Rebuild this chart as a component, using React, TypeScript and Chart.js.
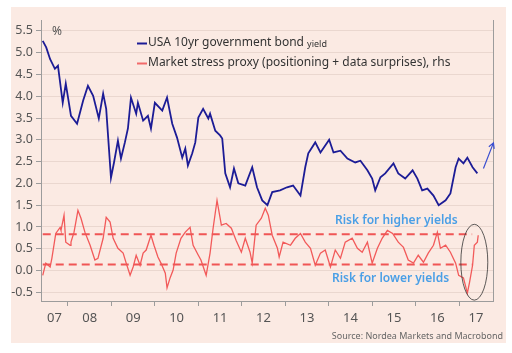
import React, { useEffect, useRef } from "react";
import { Chart, registerables } from "chart.js";

Chart.register(...registerables);

// ---- Data ----
const bondDates = [
  2007.42, 2007.5, 2007.59, 2007.7, 2007.77, 2007.88, 2007.95, 2008.07, 2008.21, 2008.35,
  2008.46, 2008.58, 2008.71, 2008.81, 2008.88, 2008.99, 2009.06, 2009.15, 2009.22, 2009.31,
  2009.38, 2009.45, 2009.57, 2009.61, 2009.73, 2009.84, 2009.91, 2010.0, 2010.17, 2010.28,
  2010.4, 2010.51, 2010.63, 2010.7, 2010.76, 2010.86, 2010.93, 2011.0, 2011.11, 2011.23,
  2011.27, 2011.39, 2011.5, 2011.55, 2011.62, 2011.73, 2011.82, 2011.92, 2012.08, 2012.24,
  2012.35, 2012.47, 2012.59, 2012.7, 2012.88, 2013.04, 2013.18, 2013.35, 2013.46, 2013.53,
  2013.69, 2013.81, 2013.92, 2014.01, 2014.11, 2014.27, 2014.43, 2014.61, 2014.73, 2014.89,
  2015.0, 2015.07, 2015.19, 2015.3, 2015.49, 2015.6, 2015.76, 2015.93, 2016.04, 2016.15,
  2016.27, 2016.41, 2016.53, 2016.69, 2016.8, 2016.92, 2016.99, 2017.1, 2017.19, 2017.31,
  2017.42,
];
const bondYield = [
  5.27, 5.12, 4.85, 4.63, 4.7, 3.85, 4.29, 3.55, 3.37, 3.9,
  4.24, 4.01, 3.49, 4.06, 3.71, 2.13, 2.48, 2.98, 2.57, 2.94,
  3.26, 3.97, 3.6, 3.85, 3.44, 3.55, 3.26, 3.85, 3.67, 3.97,
  3.37, 3.05, 2.59, 2.8, 2.41, 2.69, 2.94, 3.51, 3.71, 3.49,
  3.6, 3.21, 3.1, 3.03, 2.23, 1.91, 2.34, 2.0, 1.95, 2.37,
  1.91, 1.61, 1.5, 1.8, 1.84, 1.91, 1.95, 1.72, 2.37, 2.69,
  2.94, 2.71, 2.87, 3.0, 2.71, 2.75, 2.57, 2.48, 2.52, 2.3,
  2.11, 1.84, 2.14, 2.23, 2.46, 2.23, 2.11, 2.3, 2.11, 1.84,
  1.88, 1.72, 1.5, 1.61, 1.77, 2.37, 2.57, 2.46, 2.59, 2.37,
  2.23,
];

const stressDates = [
  2007.42, 2007.49, 2007.59, 2007.63, 2007.72, 2007.82, 2007.84, 2007.91, 2007.95, 2008.05,
  2008.07, 2008.14, 2008.23, 2008.3, 2008.39, 2008.51, 2008.62, 2008.69, 2008.81, 2008.88,
  2008.97, 2009.04, 2009.15, 2009.27, 2009.34, 2009.43, 2009.5, 2009.57, 2009.66, 2009.73,
  2009.8, 2009.91, 2009.98, 2010.07, 2010.14, 2010.24, 2010.28, 2010.35, 2010.42, 2010.49,
  2010.6, 2010.7, 2010.81, 2010.88, 2011.0, 2011.06, 2011.18, 2011.27, 2011.34, 2011.43,
  2011.53, 2011.64, 2011.76, 2011.87, 2011.99, 2012.08, 2012.19, 2012.24, 2012.33, 2012.45,
  2012.54, 2012.61, 2012.7, 2012.82, 2012.86, 2012.95, 2013.12, 2013.23, 2013.35, 2013.46,
  2013.58, 2013.69, 2013.81, 2013.92, 2014.04, 2014.15, 2014.27, 2014.38, 2014.54, 2014.66,
  2014.77, 2014.89, 2015.0, 2015.12, 2015.23, 2015.35, 2015.47, 2015.6, 2015.72, 2015.83,
  2015.95, 2016.06, 2016.18, 2016.29, 2016.41, 2016.5, 2016.57, 2016.69, 2016.8, 2016.92,
  2016.99, 2017.1, 2017.19, 2017.24, 2017.31, 2017.35, 2017.42, 2017.44,
];
const stressProxy = [
  -0.11, 0.17, 0.08, 0.28, 0.85, 0.99, 0.92, 1.27, 0.65, 0.58,
  0.65, 0.88, 1.38, 1.2, 0.88, 0.58, 0.24, 0.28, 0.74, 1.22,
  1.11, 0.74, 0.51, 0.4, 0.17, -0.11, 0.08, 0.35, 0.12, 0.4,
  0.47, 0.81, 0.58, 0.31, 0.17, -0.06, -0.4, -0.17, 0.01, 0.4,
  0.74, 0.88, 0.99, 0.58, 0.35, 0.24, -0.11, 0.4, 0.97, 1.61,
  1.04, 1.08, 0.97, 0.69, 0.42, 0.74, 0.42, 0.17, 1.04, 1.2,
  1.43, 1.27, 0.81, 0.51, 0.31, 0.65, 0.58, 0.74, 0.85, 0.65,
  0.51, 0.12, 0.4, 0.47, 0.08, 0.47, 0.28, 0.65, 0.74, 0.51,
  0.42, 0.65, 0.17, 0.51, 0.74, 0.92, 0.85, 0.65, 0.53, 0.24,
  0.17, 0.35, 0.19, 0.4, 0.58, 0.88, 0.51, 0.58, 0.42, 0.17,
  -0.11, -0.17, -0.52, -0.27, 0.12, 0.58, 0.65, 0.81,
];

const thresholdHigh = 0.83;
const thresholdLow = 0.14;
const thresholdSpan = [2007.42, 2017.3];

const yearTicks = [2008, 2009, 2010, 2011, 2012, 2013, 2014, 2015, 2016, 2017];
const yearLabels = ["07", "08", "09", "10", "11", "12", "13", "14", "15", "16", "17"];
const yearLabelPos = [2007.69, 2008.5, 2009.5, 2010.5, 2011.5, 2012.5, 2013.5, 2014.5, 2015.5, 2016.5, 2017.39];
const yTicks = [-0.5, 0, 0.5, 1, 1.5, 2, 2.5, 3, 3.5, 4, 4.5, 5, 5.5];

const X_MIN = 2007.38;
const X_MAX = 2017.78;
const Y_MIN = -0.7;
const Y_MAX = 5.75;

const FONT = "'Noto Sans', 'DejaVu Sans', sans-serif";

const decorPlugin = {
  id: "decor",
  beforeDraw(chart: any) {
    const ctx = chart.ctx;
    ctx.save();
    ctx.fillStyle = "#ffffff";
    ctx.fillRect(0, 0, chart.width, chart.height);
    ctx.fillStyle = "#fbeae3";
    ctx.fillRect(11, 7, 495, 336);
    ctx.restore();
  },
  afterDraw(chart: any) {
    const ctx = chart.ctx;
    const xs = chart.scales.x;
    const ys = chart.scales.y;
    ctx.save();
    // % label
    ctx.fillStyle = "#555555";
    ctx.font = `12px ${FONT}`;
    ctx.textBaseline = "middle";
    ctx.textAlign = "left";
    ctx.fillText("%", 52, 32);

    // legend
    ctx.lineWidth = 2;
    ctx.strokeStyle = "#1c1c96";
    ctx.beginPath();
    ctx.moveTo(137, 43.5);
    ctx.lineTo(147, 43.5);
    ctx.stroke();
    ctx.strokeStyle = "#f26a6a";
    ctx.beginPath();
    ctx.moveTo(137, 63.5);
    ctx.lineTo(147, 63.5);
    ctx.stroke();
    ctx.fillStyle = "#333333";
    ctx.font = `12px ${FONT}`;
    const t1 = "USA 10yr government bond ";
    ctx.fillText(t1, 148, 43);
    const w1 = ctx.measureText(t1).width;
    ctx.font = `9px ${FONT}`;
    ctx.fillText("yield", 148 + w1, 44);
    ctx.font = `12px ${FONT}`;
    ctx.fillText("Market stress proxy (positioning + data surprises), rhs", 148, 63);

    // risk labels
    ctx.fillStyle = "#4a9fe6";
    ctx.font = `600 12px ${FONT}`;
    ctx.fillText("Risk for higher yields", 335, 221);
    ctx.fillText("Risk for lower yields", 332, 279);

    // ellipse around latest readings
    const cx = xs.getPixelForValue(2017.35);
    const cy = ys.getPixelForValue(0.19);
    const rx = xs.getPixelForValue(2017.66) - cx;
    const ry = ys.getPixelForValue(0.19) - ys.getPixelForValue(1.06);
    ctx.strokeStyle = "#333333";
    ctx.lineWidth = 0.8;
    ctx.beginPath();
    ctx.ellipse(cx, cy, rx, ry, 0, 0, Math.PI * 2);
    ctx.stroke();

    // arrow
    const ax0 = xs.getPixelForValue(2017.56);
    const ay0 = ys.getPixelForValue(2.34);
    const ax1 = xs.getPixelForValue(2017.79);
    const ay1 = ys.getPixelForValue(2.93);
    ctx.strokeStyle = "#3b4fd0";
    ctx.lineWidth = 1.2;
    ctx.beginPath();
    ctx.moveTo(ax0, ay0);
    ctx.lineTo(ax1, ay1);
    const ang = Math.atan2(ay1 - ay0, ax1 - ax0);
    const hl = 6;
    ctx.moveTo(ax1 - hl * Math.cos(ang - 0.5), ay1 - hl * Math.sin(ang - 0.5));
    ctx.lineTo(ax1, ay1);
    ctx.lineTo(ax1 - hl * Math.cos(ang + 0.5), ay1 - hl * Math.sin(ang + 0.5));
    ctx.stroke();

    // source
    ctx.fillStyle = "#666666";
    ctx.font = `9px ${FONT}`;
    ctx.textAlign = "right";
    ctx.fillText("Source: Nordea Markets and Macrobond", 503, 336);
    ctx.restore();
  },
};

export default function App() {
  const ref = useRef<HTMLCanvasElement>(null);
  useEffect(() => {
    if (!ref.current) return;
    const bond = bondDates.map((d, i) => ({ x: d, y: bondYield[i] }));
    const stress = stressDates.map((d, i) => ({ x: d, y: stressProxy[i] }));
    const hi = thresholdSpan.map((d) => ({ x: d, y: thresholdHigh }));
    const lo = thresholdSpan.map((d) => ({ x: d, y: thresholdLow }));
    const axisGrey = "#9c9c9c";
    const chart = new Chart(ref.current, {
      type: "line",
      data: {
        datasets: [
          {
            label: "Risk for higher yields",
            data: hi,
            yAxisID: "y2",
            borderColor: "#f05555",
            borderWidth: 2,
            borderDash: [8, 5],
            pointRadius: 0,
          },
          {
            label: "Risk for lower yields",
            data: lo,
            yAxisID: "y2",
            borderColor: "#f05555",
            borderWidth: 2,
            borderDash: [8, 5],
            pointRadius: 0,
          },
          {
            label: "Market stress proxy (positioning + data surprises), rhs",
            data: stress,
            yAxisID: "y2",
            borderColor: "#f25a5a",
            borderWidth: 1.3,
            pointRadius: 0,
            tension: 0,
          },
          {
            label: "USA 10yr government bond yield",
            data: bond,
            yAxisID: "y",
            borderColor: "#1c1c96",
            borderWidth: 1.8,
            pointRadius: 0,
            tension: 0,
          },
        ],
      },
      options: {
        animation: false,
        responsive: false,
        devicePixelRatio: 1,
        layout: { padding: { left: 0, right: 19, top: 20, bottom: 17 } },
        plugins: { legend: { display: false }, tooltip: { enabled: false } },
        scales: {
          x: {
            type: "linear",
            min: X_MIN,
            max: X_MAX,
            afterBuildTicks: (s: any) => {
              s.ticks = yearTicks.map((v) => ({ value: v }));
            },
            afterFit: (s: any) => {
              s.height = 5;
            },
            ticks: { display: false },
            grid: { display: true, drawOnChartArea: false, tickLength: 5, tickColor: axisGrey, tickWidth: 1 },
            border: { display: true, color: axisGrey, width: 1 },
          },
          x2: {
            type: "linear",
            position: "bottom",
            min: X_MIN,
            max: X_MAX,
            afterBuildTicks: (s: any) => {
              s.ticks = yearLabelPos.map((v) => ({ value: v }));
            },
            afterFit: (s: any) => {
              s.height = 30;
            },
            ticks: {
              autoSkip: false,
              maxRotation: 0,
              padding: 4,
              color: "#555555",
              font: { family: FONT, size: 13 },
              callback: (v: any) => {
                const i = yearLabelPos.indexOf(Number(v));
                return i >= 0 ? yearLabels[i] : "";
              },
            },
            grid: { display: false, drawTicks: false },
            border: { display: false },
          },
          y: {
            type: "linear",
            position: "left",
            min: Y_MIN,
            max: Y_MAX,
            afterBuildTicks: (s: any) => {
              s.ticks = yTicks.map((v) => ({ value: v }));
            },
            afterFit: (s: any) => {
              s.width = 41;
            },
            ticks: {
              padding: 3,
              color: "#555555",
              font: { family: FONT, size: 12.5 },
              callback: (v: any) => Number(v).toFixed(1),
            },
            grid: { color: "#ead7cf", lineWidth: 1, tickLength: 5, tickColor: axisGrey },
            border: { display: true, color: axisGrey, width: 1 },
          },
          y2: {
            type: "linear",
            position: "right",
            min: Y_MIN,
            max: Y_MAX,
            afterFit: (s: any) => {
              s.width = 0;
            },
            ticks: { display: false },
            grid: { display: false, drawTicks: false },
            border: { display: true, color: axisGrey, width: 1 },
          },
        },
      },
      plugins: [decorPlugin],
    });
    return () => chart.destroy();
  }, []);
  return (
    <div style={{ position: "fixed", left: 0, top: 0, width: 512, height: 353 }}>
      <canvas ref={ref} width={512} height={353} style={{ display: "block" }} />
    </div>
  );
}
